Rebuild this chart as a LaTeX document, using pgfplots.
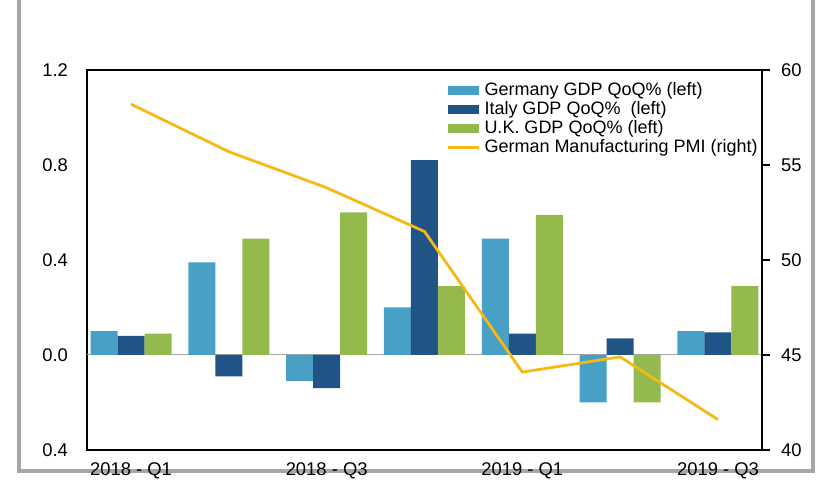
\documentclass[border=0pt]{standalone}
\usepackage{pgfplots}
\pgfplotsset{compat=1.18}
\usepackage{fontspec}
\setmainfont{Liberation Sans}
\definecolor{cGer}{RGB}{72,160,196}
\definecolor{cIta}{RGB}{33,84,134}
\definecolor{cUK}{RGB}{148,186,78}
\definecolor{cPMI}{RGB}{246,184,20}
\pgfplotsset{
 barleg/.style={legend image code/.code={\fill[##1] (0pt,-2.3pt) rectangle (15.5pt,2.3pt);}},
 lineleg/.style={legend image code/.code={\draw[##1] (0pt,0pt) -- (15.5pt,0pt);}},
}
\begin{document}
\begin{tikzpicture}
\useasboundingbox (-43.5pt,-20.5pt) rectangle (365.5pt,225pt);
\draw[gray!70, line width=1.8pt] (-34pt,-10.5pt) rectangle (363pt,240pt);
\begin{axis}[
 at={(0pt,0pt)}, anchor=south west,
 scale only axis, width=337.5pt, height=190pt,
 ybar=0pt, bar width=13.5pt,
 xmin=-0.45, xmax=6.45, ymin=-0.4, ymax=1.2,
 xtick={0,2,4,6}, xticklabels={2018 - Q1, 2018 - Q3, 2019 - Q1, 2019 - Q3},
 ytick={-0.4,0,0.4,0.8,1.2}, yticklabels={0.4,0.0,0.4,0.8,1.2},
 major tick length=0pt,
 axis line style={line width=0.8pt},
 tick label style={font=\fontsize{9.2}{10}\selectfont},
 yticklabel style={xshift=-6pt},
 xticklabel style={yshift=-3pt},
 extra y ticks={0}, extra y tick labels={},
 extra y tick style={grid=major, major grid style={gray!70, line width=0.5pt}},
]
\addplot[fill=cGer, draw=none] coordinates {(0,0.10) (1,0.39) (2,-0.11) (3,0.20) (4,0.49) (5,-0.20) (6,0.10)};
\addplot[fill=cIta, draw=none] coordinates {(0,0.08) (1,-0.09) (2,-0.14) (3,0.82) (4,0.09) (5,0.07) (6,0.095)};
\addplot[fill=cUK, draw=none] coordinates {(0,0.09) (1,0.49) (2,0.60) (3,0.29) (4,0.59) (5,-0.20) (6,0.29)};
\end{axis}
\begin{axis}[
 at={(0pt,0pt)}, anchor=south west,
 scale only axis, width=337.5pt, height=190pt,
 xmin=-0.45, xmax=6.45, ymin=40, ymax=60,
 axis x line=none, axis y line*=right,
 ytick={40,45,50,55,60},
 tick align=outside, major tick length=4pt,
 axis line style={line width=0.8pt},
 tick style={line width=0.6pt, black},
 /pgf/number format/assume math mode=true,
 tick label style={font=\fontsize{9.2}{10}\selectfont},
 yticklabel style={xshift=2pt},
 legend style={at={(1,1)}, anchor=north east, yshift=-4pt, draw=none, fill=none,
   font=\fontsize{9}{9.5}\selectfont, inner sep=0pt, row sep=-2.5pt},
 legend cell align=left,
]
\addlegendimage{fill=cGer, draw=none, barleg}
\addlegendentry{Germany GDP QoQ\% (left)}
\addlegendimage{fill=cIta, draw=none, barleg}
\addlegendentry{Italy GDP QoQ\%\ \ (left)}
\addlegendimage{fill=cUK, draw=none, barleg}
\addlegendentry{U.K. GDP QoQ\% (left)}
\addplot[cPMI, line width=1.4pt, mark=none, lineleg] coordinates {(0,58.2) (1,55.7) (2,53.8) (3,51.5) (4,44.1) (5,44.9) (6,41.6)};
\addlegendentry{German Manufacturing PMI (right)}
\end{axis}
\end{tikzpicture}
\end{document}
